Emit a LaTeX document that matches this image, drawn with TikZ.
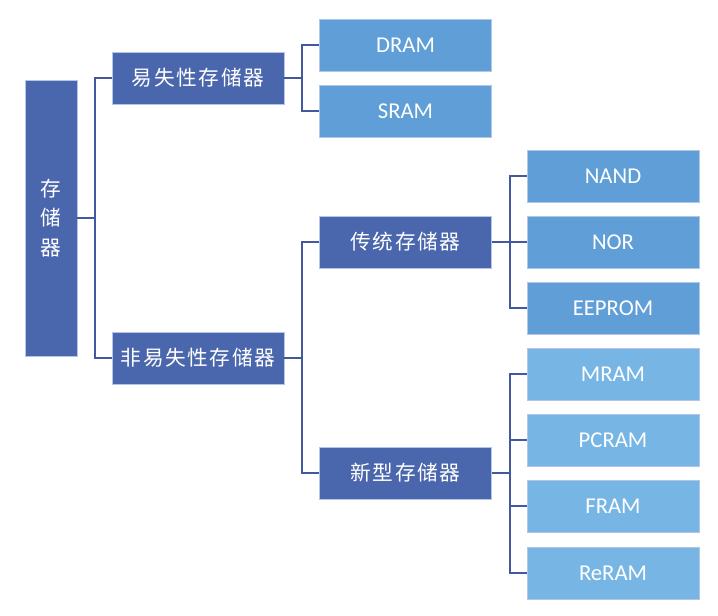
\documentclass[tikz,border=0pt]{standalone}
\usepackage{fontspec}
\setmainfont{Carlito}
\newfontfamily\cjk[LetterSpace=8]{Noto Sans CJK SC}
\definecolor{darkbox}{HTML}{4A66AC}
\definecolor{midbox}{HTML}{5F9ED6}
\definecolor{lightbox}{HTML}{77B6E4}
\definecolor{linkcol}{HTML}{42599E}
\definecolor{edgecol}{HTML}{B4C6E7}
\tikzset{
  box/.style={draw=edgecol,line width=0.5pt,text=white,inner sep=0pt,
    minimum width=129pt,minimum height=39pt},
  darkbox/.style={box,fill=darkbox,font=\cjk\fontsize{15.5}{18}\selectfont},
  midbox/.style={box,fill=midbox,font=\fontsize{17}{20}\selectfont},
  lightbox/.style={box,fill=lightbox,font=\fontsize{17}{20}\selectfont},
  link/.style={linkcol,line width=2.2pt}
}
\begin{document}
\begin{tikzpicture}[x=0.75pt,y=-0.75pt]
\useasboundingbox (0,0) rectangle (718,615);

% root
\node[box,fill=darkbox,minimum width=39pt,minimum height=207pt,
  font=\cjk\fontsize{15.5}{22}\selectfont,align=center] (root) at (51,218) {存\\储\\器};

% first level
\node[darkbox] (vol) at (198,78) {易失性存储器};
\node[darkbox] (nvol) at (198,358) {非易失性存储器};

% second level
\node[midbox] (dram) at (405.5,45) {DRAM};
\node[midbox] (sram) at (405.5,111) {SRAM};
\node[darkbox] (trad) at (405.5,242) {传统存储器};
\node[darkbox] (new) at (405.5,473) {新型存储器};

% third level
\node[midbox] (nand) at (613,176) {NAND};
\node[midbox] (nor) at (613,242) {NOR};
\node[midbox] (eeprom) at (613,308) {EEPROM};
\node[lightbox] (mram) at (613,374) {MRAM};
\node[lightbox] (pcram) at (613,440) {PCRAM};
\node[lightbox] (fram) at (613,506) {FRAM};
\node[lightbox] (reram) at (613,573) {ReRAM};

% hubs
\coordinate (h0) at (95,218);
\coordinate (h1) at (302,78);
\coordinate (h2) at (302,358);
\coordinate (h3) at (510,242);
\coordinate (h4) at (510,473);

\draw[link] (root.east) -- (h0);
\draw[link] (h0) |- (vol.west);
\draw[link] (h0) |- (nvol.west);

\draw[link] (vol.east) -- (h1);
\draw[link] (h1) |- (dram.west);
\draw[link] (h1) |- (sram.west);

\draw[link] (nvol.east) -- (h2);
\draw[link] (h2) |- (trad.west);
\draw[link] (h2) |- (new.west);

\draw[link] (trad.east) -- (h3);
\draw[link] (h3) |- (nand.west);
\draw[link] (h3) |- (nor.west);
\draw[link] (h3) |- (eeprom.west);

\draw[link] (new.east) -- (h4);
\draw[link] (h4) |- (mram.west);
\draw[link] (h4) |- (pcram.west);
\draw[link] (h4) |- (fram.west);
\draw[link] (h4) |- (reram.west);
\end{tikzpicture}
\end{document}
